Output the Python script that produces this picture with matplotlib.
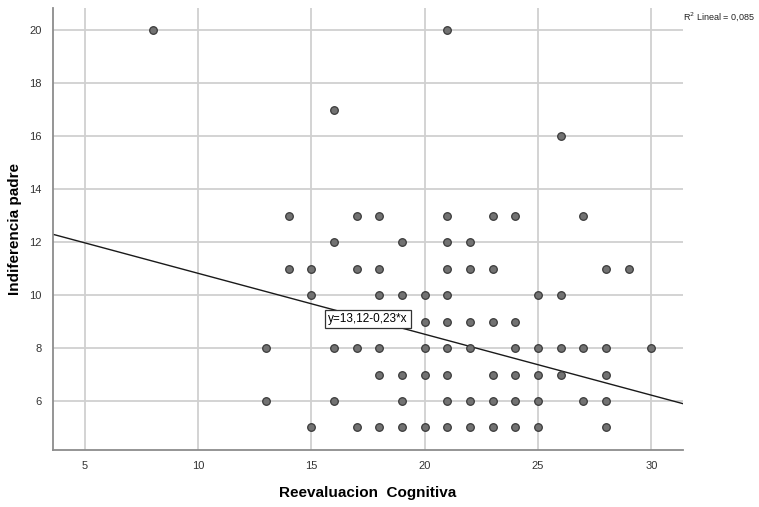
import matplotlib.pyplot as plt
import numpy as np

plt.rcParams['font.family'] = ['Liberation Sans', 'DejaVu Sans']

# puntos por fila (valor de Indiferencia padre -> valores de Reevaluacion Cognitiva)
y20 = [8, 21]
y17 = [16]
y16 = [26]
y13 = [14, 17, 18, 21, 23, 24, 27]
y12 = [16, 19, 21, 22]
y11 = [14, 15, 17, 18, 21, 22, 23, 28, 29]
y10 = [15, 18, 19, 20, 21, 25, 26]
y9 = [20, 21, 22, 23, 24]
y8 = [13, 16, 17, 18, 20, 21, 22, 24, 25, 26, 27, 28, 30]
y7 = [18, 19, 20, 21, 23, 24, 25, 26, 28]
y6 = [13, 16, 19, 21, 22, 23, 24, 25, 27, 28]
y5 = [15, 17, 18, 19, 20, 21, 22, 23, 24, 25, 28]

rows = {20: y20, 17: y17, 16: y16, 13: y13, 12: y12, 11: y11, 10: y10,
        9: y9, 8: y8, 7: y7, 6: y6, 5: y5}

x = []
y = []
for yv, xs in rows.items():
    for xv in xs:
        x.append(xv)
        y.append(yv)

intercept = 13.12
slope = -0.23

fig = plt.figure(figsize=(7.59, 5.07), dpi=100)
ax = fig.add_axes([0.0698, 0.1124, 0.8302, 0.8716])

ax.set_xlim(3.6, 31.4)
ax.set_ylim(4.15, 20.83)
ax.set_xticks([5, 10, 15, 20, 25, 30])
ax.set_yticks([6, 8, 10, 12, 14, 16, 18, 20])
ax.grid(True, color='#d0d0d0', linewidth=1.3)
ax.set_axisbelow(True)

for s in ['top', 'right']:
    ax.spines[s].set_visible(False)
for s in ['left', 'bottom']:
    ax.spines[s].set_color('#8c8c8c')
    ax.spines[s].set_linewidth(1.3)

ax.tick_params(length=0, labelsize=8, colors='#333333', pad=8)

ax.scatter(x, y, s=30, facecolor='#727272', edgecolor='#3a3a3a', linewidth=0.9, zorder=3)

xl = np.array(ax.get_xlim())
ax.plot(xl, intercept + slope * xl, color='#1a1a1a', linewidth=1.0, zorder=2)

ax.text(17.5, 9.08, 'y=13,12-0,23*x', fontsize=8.5, ha='center', va='center', zorder=4,
        bbox=dict(boxstyle='square,pad=0.25', facecolor='white', edgecolor='#333333', linewidth=0.9))

fig.text(0.9, 0.968, 'R$^2$ Lineal = 0,085', fontsize=6.5, ha='left', va='center', color='#222222')

ax.set_xlabel('Reevaluacion  Cognitiva', fontsize=11, fontweight='bold', labelpad=11)
ax.set_ylabel('Indiferencia padre', fontsize=11, fontweight='bold', labelpad=5)

fig.savefig('out.png', dpi=100)
